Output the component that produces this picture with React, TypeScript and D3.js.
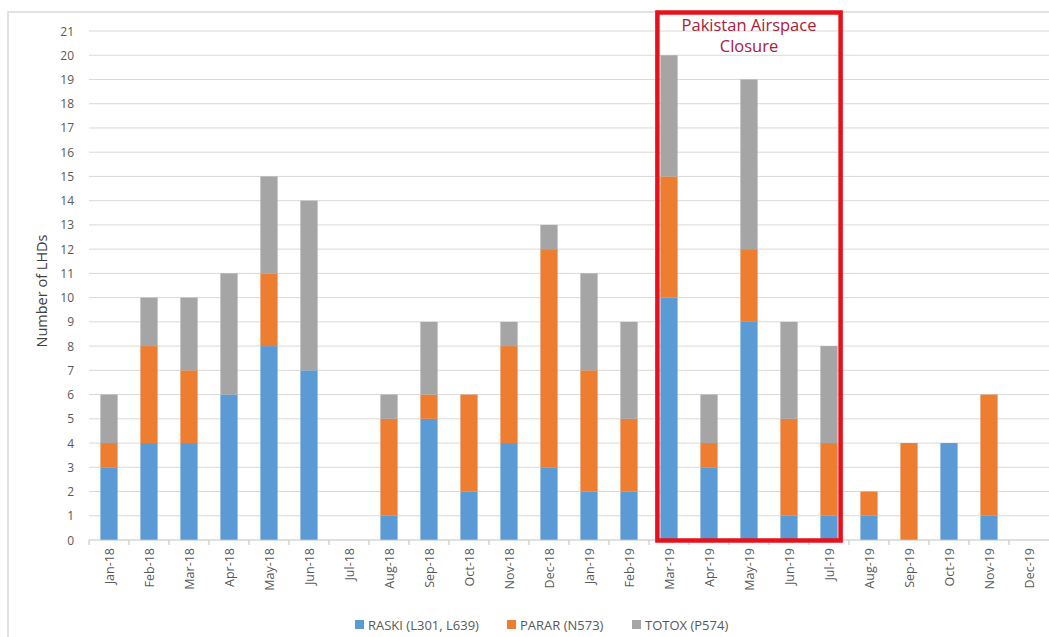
import * as d3 from "d3";
import React, { useEffect, useRef } from "react";

const months = [
  "Jan-18", "Feb-18", "Mar-18", "Apr-18", "May-18", "Jun-18", "Jul-18", "Aug-18",
  "Sep-18", "Oct-18", "Nov-18", "Dec-18", "Jan-19", "Feb-19", "Mar-19", "Apr-19",
  "May-19", "Jun-19", "Jul-19", "Aug-19", "Sep-19", "Oct-19", "Nov-19", "Dec-19",
];
const raski = [3, 4, 4, 6, 8, 7, 0, 1, 5, 2, 4, 3, 2, 2, 10, 3, 9, 1, 1, 1, 0, 4, 1, 0];
const parar = [1, 4, 3, 0, 3, 0, 0, 4, 1, 4, 4, 9, 5, 3, 5, 1, 3, 4, 3, 1, 4, 0, 5, 0];
const totox = [2, 2, 3, 5, 4, 7, 0, 1, 3, 0, 1, 1, 4, 4, 5, 2, 7, 4, 4, 0, 0, 0, 0, 0];
const seriesNames = ["RASKI (L301, L639)", "PARAR (N573)", "TOTOX (P574)"];
const colors = ["#5b9bd5", "#ed7d31", "#a5a5a5"];
const yTicks = d3.range(0, 22);
const closureMonths = ["Mar-19", "Jul-19"];

const W = 1049;
const H = 637;

const App = () => {
  const ref = useRef(null);

  useEffect(() => {
    const svg = d3.select(ref.current);
    svg.selectAll("*").remove();

    const left = 89, right = 1049, top = 31, bottom = 540;
    const font = "'Open Sans', sans-serif";

    svg.append("rect")
      .attr("x", 8).attr("y", 12).attr("width", W).attr("height", H)
      .attr("fill", "white").attr("stroke", "#d9d9d9").attr("stroke-width", 1.5);

    const x = d3.scaleBand().domain(months).range([left, right]).paddingInner(0.57).paddingOuter(0.285);
    const y = d3.scaleLinear().domain([0, 21]).range([bottom, top]);

    // grid
    svg.append("g").selectAll("line").data(yTicks.filter(t => t > 0)).enter()
      .append("line")
      .attr("x1", left).attr("x2", right)
      .attr("y1", d => y(d)).attr("y2", d => y(d))
      .attr("stroke", "#d9d9d9").attr("stroke-width", 1);

    svg.append("g").selectAll("text").data(yTicks).enter()
      .append("text")
      .attr("x", 74).attr("y", d => y(d) + 4.5)
      .attr("text-anchor", "end")
      .attr("font-family", font).attr("font-size", 12).attr("fill", "#595959")
      .text(d => d);

    svg.append("text")
      .attr("transform", `translate(47,291) rotate(-90)`)
      .attr("text-anchor", "middle")
      .attr("font-family", font).attr("font-size", 14.5).attr("fill", "#404040")
      .text("Number of LHDs");

    const data = months.map((m, i) => ({ month: m, r: raski[i], p: parar[i], t: totox[i] }));
    const stack = d3.stack().keys(["r", "p", "t"])(data);

    svg.append("g").selectAll("g").data(stack).enter()
      .append("g").attr("fill", (d, i) => colors[i])
      .selectAll("rect").data(d => d).enter()
      .append("rect")
      .attr("x", d => x(d.data.month))
      .attr("width", x.bandwidth())
      .attr("y", d => y(d[1]))
      .attr("height", d => y(d[0]) - y(d[1]));

    // x axis
    const step = x.step();
    svg.append("line")
      .attr("x1", left).attr("x2", right).attr("y1", bottom).attr("y2", bottom)
      .attr("stroke", "#bfbfbf");
    svg.append("g").selectAll("line").data(months).enter()
      .append("line")
      .attr("x1", d => x(d) + x.bandwidth() / 2 - step / 2)
      .attr("x2", d => x(d) + x.bandwidth() / 2 - step / 2)
      .attr("y1", bottom).attr("y2", bottom + 5)
      .attr("stroke", "#bfbfbf");

    svg.append("g").selectAll("text").data(months).enter()
      .append("text")
      .attr("transform", d => `translate(${x(d) + x.bandwidth() / 2 + 4.5},548) rotate(-90)`)
      .attr("text-anchor", "end")
      .attr("font-family", font).attr("font-size", 12.5).attr("fill", "#595959")
      .text(d => d);

    // closure box
    const bx0 = x(closureMonths[0]) - 3;
    const bx1 = x(closureMonths[1]) + x.bandwidth() + 3;
    svg.append("rect")
      .attr("x", bx0).attr("y", 12.5).attr("width", bx1 - bx0).attr("height", bottom - 12)
      .attr("fill", "none").attr("stroke", "#e8101a").attr("stroke-width", 4.5);
    const cx = (bx0 + bx1) / 2;
    ["Pakistan Airspace", "Closure"].forEach((s, i) => {
      svg.append("text")
        .attr("x", cx).attr("y", 31 + i * 21)
        .attr("text-anchor", "middle")
        .attr("font-family", font).attr("font-size", 16.5).attr("fill", "#a8203a")
        .text(s);
    });

    // legend
    const legendX = [355, 507, 632];
    seriesNames.forEach((s, i) => {
      const g = svg.append("g").attr("transform", `translate(${legendX[i]},620)`);
      g.append("rect").attr("width", 9).attr("height", 9).attr("fill", colors[i]);
      g.append("text").attr("x", 13).attr("y", 9.5)
        .attr("font-family", font).attr("font-size", 13).attr("fill", "#595959")
        .text(s);
    });
  }, []);

  return (
    <svg ref={ref} width={W} height={H} style={{ position: "absolute", left: 0, top: 0 }} />
  );
};

export default App;
